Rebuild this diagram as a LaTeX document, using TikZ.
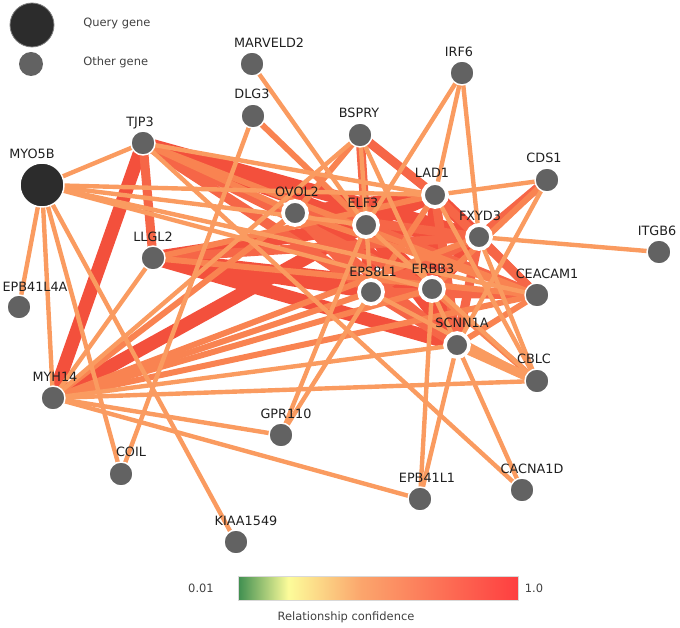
\documentclass[tikz,border=0pt]{standalone}
\usepackage{fontspec}
\setmainfont{DejaVu Sans}
\usetikzlibrary{backgrounds}
\definecolor{genegray}{HTML}{626262}
\definecolor{querygray}{HTML}{2C2C2C}
\definecolor{ca}{HTML}{FA9B60}
\definecolor{cb}{HTML}{F98351}
\definecolor{cc}{HTML}{F66647}
\definecolor{cd}{HTML}{F3503C}
\definecolor{cgreen}{HTML}{3E8E50}
\definecolor{cyellow}{HTML}{FCFC9A}
\definecolor{corange}{HTML}{FBA56C}
\definecolor{cred}{HTML}{FE3E40}
\pgfdeclarehorizontalshading{confshade}{100bp}{color(0bp)=(cgreen); color(25bp)=(cgreen);
  color(34bp)=(cyellow); color(47bp)=(corange); color(75bp)=(cred); color(100bp)=(cred)}

\begin{document}
\begin{tikzpicture}[x=0.75pt,y=-0.75pt, font=\fontsize{9.6}{11}\selectfont,
gene/.style={circle,fill=genegray,draw=white,line width=1.1pt,minimum size=18pt,inner sep=0pt},
hub/.style={gene,line width=2.8pt},
query/.style={gene,fill=querygray,minimum size=33pt},
lab/.style={text=black!88,inner sep=0pt},
small/.style={lab,font=\fontsize{8.6}{10}\selectfont,text=black!75},
ea/.style={draw=ca,line width=3.3pt},
eb/.style={draw=cb,line width=4.5pt},
ec/.style={draw=cc,line width=6.8pt},
ed/.style={draw=cd,line width=10pt}]
\useasboundingbox (0,0) rectangle (680,627);

% legend
\node[query,draw=black!50,line width=0.6pt] (qleg) at (32,25) {};
\node[gene,draw=none] (oleg) at (31,64) {};
\node[small,anchor=west] (qtext) at (83,23) {Query gene};
\node[small,anchor=west] (otext) at (83,62) {Other gene};

% genes: name/x/y/label dx/label dy/style
\foreach \g/\x/\y/\dx/\dy/\st in {MYO5B/42/185/-10/-31/query, TJP3/143/143/-3/-20/gene,
  MARVELD2/252/64/17/-21/gene, DLG3/253/116/-1/-22/gene, BSPRY/360/135/-1/-22/gene,
  IRF6/462/73/-3/-21/gene, LAD1/435/195/-3/-22/hub, CDS1/547/180/-3/-22/gene,
  OVOL2/295/213/2/-21/hub, ELF3/366/225/-3/-22/hub, FXYD3/479/237/1/-21/hub,
  ITGB6/659/252/-2/-21/gene, LLGL2/153/258/0/-21/gene, EPB41L4A/19/307/16/-20/gene,
  EPS8L1/371/292/2/-20/hub, ERBB3/432/289/1/-20/hub, CEACAM1/537/295/10/-21/gene,
  SCNN1A/457/345/5/-22/hub, CBLC/537/381/-3/-22/gene, MYH14/53/398/2/-21/gene,
  GPR110/281/435/5/-21/gene, COIL/121/474/10/-22/gene, EPB41L1/420/499/7/-21/gene,
  CACNA1D/522/490/10/-21/gene, KIAA1549/236/542/10/-21/gene}{
\node[\st] (\g) at (\x,\y) {};
\node[lab] (l\g) at (\x+\dx,\y+\dy) {\g};
}

\begin{scope}[on background layer]
\foreach \a/\b in {TJP3/MYH14, TJP3/ELF3, TJP3/FXYD3, MYH14/ELF3, LLGL2/ELF3, LLGL2/ERBB3,
  LLGL2/EPS8L1, LLGL2/SCNN1A, OVOL2/ELF3, OVOL2/ERBB3, ELF3/LAD1, ELF3/FXYD3, ELF3/ERBB3,
  ELF3/EPS8L1, ELF3/SCNN1A, LAD1/ERBB3, LAD1/FXYD3, ERBB3/SCNN1A, ERBB3/FXYD3,
  ERBB3/EPS8L1, OVOL2/LAD1}
\draw[ed] (\a.center) -- (\b.center);

\foreach \a/\b in {TJP3/LLGL2, TJP3/EPS8L1, TJP3/SCNN1A, TJP3/ERBB3, BSPRY/ELF3, BSPRY/LAD1,
  CDS1/FXYD3, FXYD3/CEACAM1, FXYD3/SCNN1A, FXYD3/EPS8L1, FXYD3/OVOL2, LAD1/CEACAM1,
  LAD1/SCNN1A, ELF3/CEACAM1, ERBB3/CEACAM1, EPS8L1/CEACAM1, OVOL2/EPS8L1, OVOL2/SCNN1A,
  LLGL2/FXYD3, EPS8L1/SCNN1A}
\draw[ec] (\a.center) -- (\b.center);

\foreach \a/\b in {TJP3/CEACAM1, TJP3/OVOL2, DLG3/ELF3, BSPRY/OVOL2, CDS1/ERBB3,
  MYH14/EPS8L1, MYH14/ERBB3, MYH14/CEACAM1, MYH14/FXYD3, CEACAM1/SCNN1A, OVOL2/MYH14,
  LLGL2/LAD1, LLGL2/CEACAM1, ERBB3/CBLC, LAD1/EPS8L1, OVOL2/CEACAM1}
\draw[eb] (\a.center) -- (\b.center);

\draw[ea,line width=7pt] (SCNN1A.center) -- (CBLC.center);

\foreach \a/\b in {MYO5B/TJP3, MYO5B/EPB41L4A, MYO5B/MYH14, MYO5B/COIL, MYO5B/KIAA1549,
  MYO5B/LAD1, MYO5B/ELF3, MYO5B/ERBB3, MYO5B/CEACAM1, TJP3/LAD1, TJP3/CACNA1D,
  MARVELD2/ELF3, DLG3/COIL, BSPRY/MYH14, BSPRY/EPS8L1, BSPRY/SCNN1A, IRF6/LAD1,
  IRF6/FXYD3, IRF6/ELF3, CDS1/LAD1, CDS1/SCNN1A, FXYD3/ITGB6, FXYD3/CBLC, LLGL2/MYH14,
  MYH14/GPR110, MYH14/EPB41L1, MYH14/CBLC, MYH14/SCNN1A, GPR110/EPS8L1, GPR110/ELF3,
  EPB41L1/ERBB3, EPB41L1/SCNN1A, SCNN1A/CACNA1D, CBLC/LAD1, CBLC/ELF3, EPS8L1/CBLC}
\draw[ea] (\a.center) -- (\b.center);
\end{scope}

% colour scale
\shade[shading=confshade,draw=black!15,line width=0.4pt] (238,576) rectangle (518,600);
\node[small] (low) at (201,588) {0.01};
\node[small] (high) at (534,588) {1.0};
\node[small] (conf) at (346,617) {Relationship confidence};

\end{tikzpicture}
\end{document}
